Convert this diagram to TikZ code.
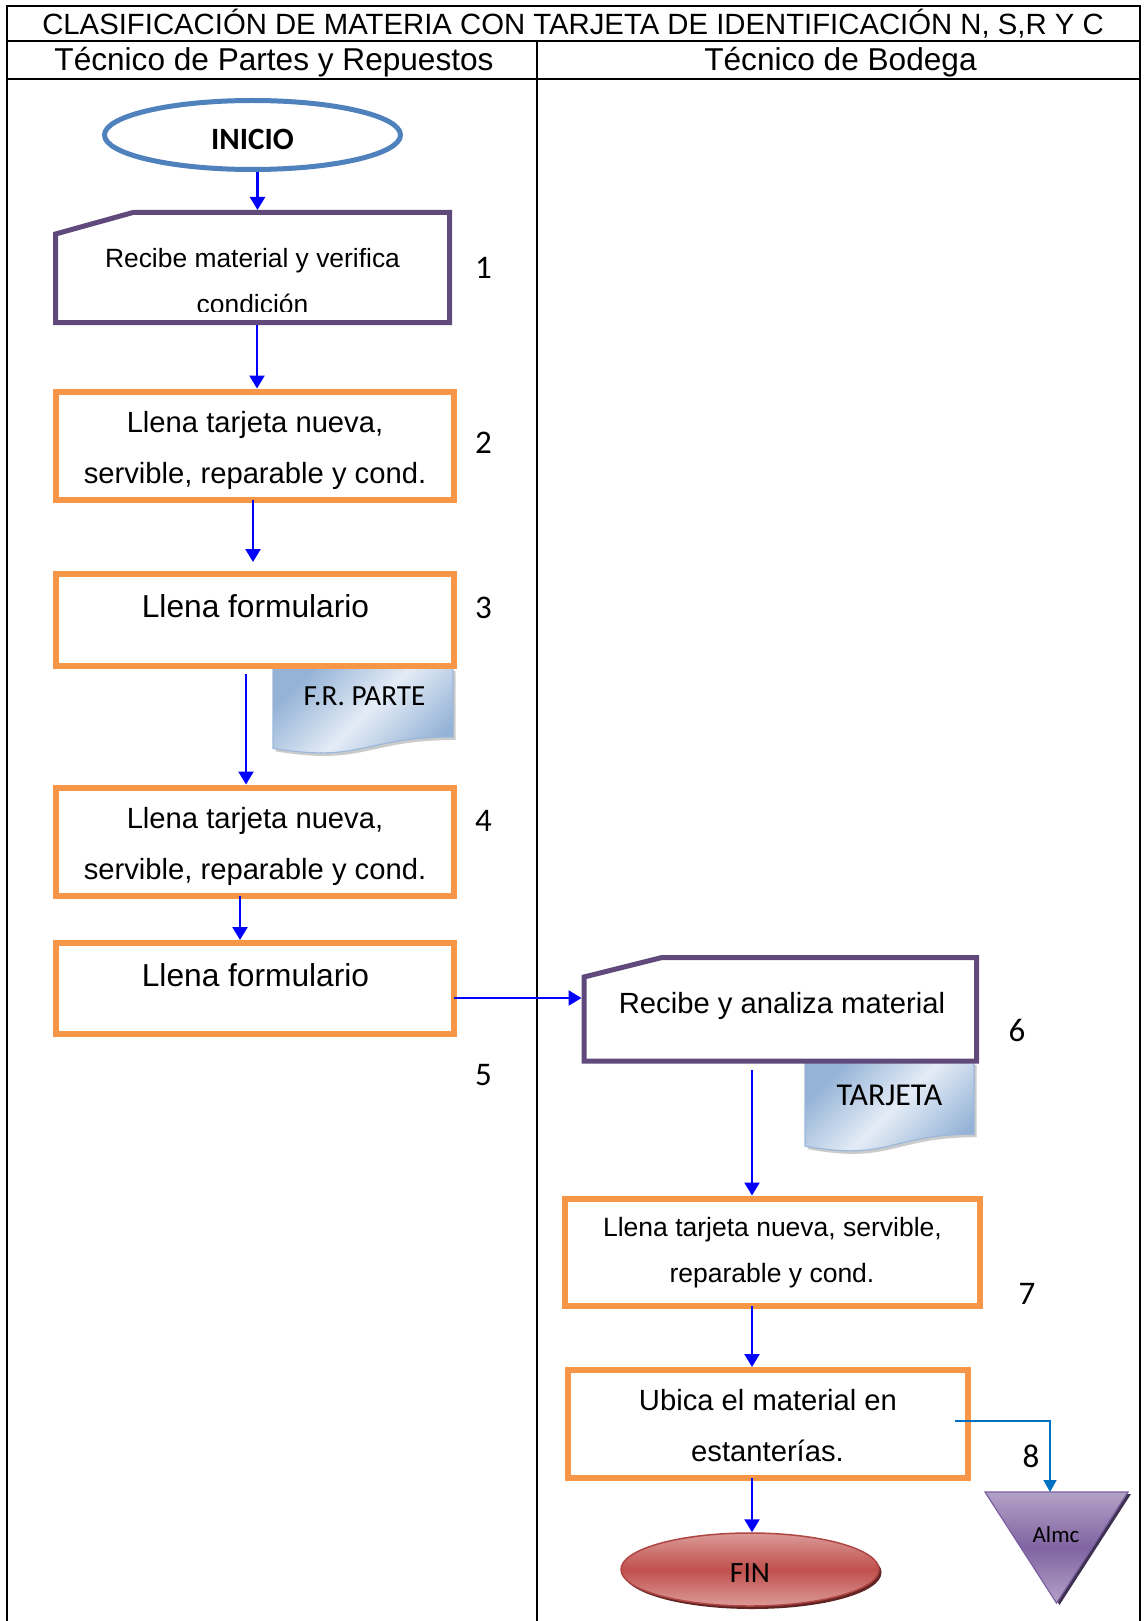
\documentclass[tikz,border=0pt]{standalone}
\usepackage{fontspec}
\setmainfont{Liberation Sans}
\newfontfamily\calibri{Carlito}
\usetikzlibrary{arrows.meta,calc,shapes.geometric}
\definecolor{borange}{HTML}{F79646}
\definecolor{bpurple}{HTML}{604A7B}
\definecolor{iniblue}{HTML}{4F81BD}
\definecolor{linkblue}{HTML}{0070C0}
\definecolor{docblue}{HTML}{95B3D7}
\definecolor{doclight}{HTML}{E4ECF6}
\definecolor{docedge}{HTML}{9BB7D9}
\definecolor{finred}{HTML}{C0504D}
\definecolor{finlight}{HTML}{DB9A98}
\definecolor{finedge}{HTML}{B04643}
\definecolor{findark}{HTML}{632523}
\definecolor{almcpurple}{HTML}{8064A2}
\definecolor{almclight}{HTML}{B3A2C7}
\definecolor{almcedge}{HTML}{7B60A0}
\definecolor{almcdark}{HTML}{3F3151}
\newcommand\fz[1]{\fontsize{#1pt}{#1pt}\selectfont}
\newcommand\drawdoc[2]{%
  \path[#2] (#1.north west) -- (#1.north east) -- ($(#1.north east)!0.802!(#1.south east)$)
    .. controls ($(#1.north)!0.802!(#1.south)$) and ($(#1.north)!1.1075!(#1.south)$) ..
    ($(#1.north west)!0.934!(#1.south west)$) -- cycle;}
\begin{document}
\begin{tikzpicture}[x=1pt,y=-1pt,
  tline/.style={draw=black, line width=2pt},
  obox/.style={rectangle, draw=borange, line width=6pt, inner sep=0pt, outer sep=0pt},
  pshape/.style={draw=bpurple, line width=5pt, line join=miter},
  ghost/.style={rectangle, draw=none, inner sep=0pt, outer sep=0pt},
  txt/.style={anchor=base, inner sep=0pt, outer sep=0pt},
  arr/.style={draw=blue, line width=2.4pt, -{Triangle[length=13pt,width=15pt]}},
  arrb/.style={draw=linkblue, line width=1.8pt, -{Triangle[length=12pt,width=13pt]}},
  num/.style={anchor=base, inner sep=0pt, font=\calibri\fz{33}},
]
\useasboundingbox (0,0) rectangle (1145,1621);
\fill[white] (0,0) rectangle (1145,1621);

% table frame
\draw[tline] (7,1621) -- (7,6) -- (1140,6) -- (1140,1621);
\draw[tline] (7,41) -- (1140,41);
\draw[tline] (7,79) -- (1140,79);
\draw[tline] (537,41) -- (537,1621);
\node[txt] (title) at (573,35) {\fz{29.3}CLASIFICACIÓN DE MATERIA CON TARJETA DE IDENTIFICACIÓN N, S,R Y C};
\node[txt] (head1) at (274,71) {\fz{31.6}Técnico de Partes y Repuestos};
\node[txt] (head2) at (840.5,71) {\fz{31.6}Técnico de Bodega};

% documents (drawn first)
\node[ghost, minimum width=180pt, minimum height=86pt] (doc1) at (363,711) {};
\node[ghost, minimum width=169pt, minimum height=90pt] (doc2) at (889.5,1107) {};
\drawdoc{doc1}{fill=black!45, opacity=0.45, transform canvas={shift={(2.5pt,-3pt)}}}
\drawdoc{doc1}{draw=docedge, line width=1.2pt, top color=docblue, bottom color=docblue, middle color=doclight, shading angle=45}
\drawdoc{doc2}{fill=black!45, opacity=0.45, transform canvas={shift={(2.5pt,-3pt)}}}
\drawdoc{doc2}{draw=docedge, line width=1.2pt, top color=docblue, bottom color=docblue, middle color=doclight, shading angle=45}
\node[txt, font=\calibri\fz{29.2}] (doc1t) at (364.5,705) {F.R. PARTE};
\node[txt, font=\calibri\fz{31.8}] (doc2t) at (889.5,1105) {TARJETA};

% start
\node[ellipse, draw=iniblue, line width=5pt, fill=white, minimum width=296pt, minimum height=69pt, inner sep=0pt] (ini) at (252.5,135) {};
\node[txt, font=\calibri\bfseries\fz{31}] (init) at (252.5,150) {INICIO};

% step 1
\node[ghost, minimum width=394pt, minimum height=110pt] (box1) at (252.5,267.5) {};
\draw[pshape] (box1.south west) -- ($(box1.north west)+(0,21.5)$) -- ($(box1.north west)+(77.5,0)$) -- (box1.north east) -- (box1.south east) -- cycle;
\node[txt] (t1a) at (252.5,267) {\fz{26.4}Recibe material y verifica};
\begin{scope}
\clip (0,0) rectangle (1145,311.7);
\node[txt] (t1b) at (252.5,313) {\fz{26.4}condición};
\end{scope}

% steps 2-5
\node[obox, minimum width=398pt, minimum height=108.5pt] (box2) at (255,445.75) {};
\node[txt] (t2a) at (255,432) {\fz{29.2}Llena tarjeta nueva,};
\node[txt] (t2b) at (255,483) {\fz{29.2}servible, reparable y cond.};
\node[obox, minimum width=398pt, minimum height=92pt] (box3) at (255,619.5) {};
\node[txt] (t3) at (255.5,617) {\fz{31.7}Llena formulario};
\node[obox, minimum width=398pt, minimum height=108.5pt] (box4) at (255,841.75) {};
\node[txt] (t4a) at (255,828) {\fz{29.2}Llena tarjeta nueva,};
\node[txt] (t4b) at (255,879) {\fz{29.2}servible, reparable y cond.};
\node[obox, minimum width=398pt, minimum height=91pt] (box5) at (255,988.5) {};
\node[txt] (t5) at (255.5,986) {\fz{31.7}Llena formulario};

% step 6
\node[ghost, minimum width=392.5pt, minimum height=103.5pt] (box6) at (780.25,1009.25) {};
\draw[pshape] (box6.south west) -- ($(box6.north west)+(0,19.5)$) -- ($(box6.north west)+(78,0)$) -- (box6.north east) -- (box6.south east) -- cycle;
\node[txt] (t6) at (782,1013) {\fz{29.2}Recibe y analiza material};

% steps 7-8
\node[obox, minimum width=415pt, minimum height=107.5pt] (box7) at (772.5,1252.25) {};
\node[txt] (t7a) at (772.5,1236) {\fz{26.5}Llena tarjeta nueva, servible,};
\node[txt] (t7b) at (772,1282) {\fz{26.5}reparable y cond.};
\node[obox, minimum width=400.5pt, minimum height=108pt] (box8) at (767.75,1424) {};
\node[txt] (t8a) at (768,1410) {\fz{29.2}Ubica el material en};
\node[txt] (t8b) at (767.5,1461) {\fz{29.2}estanterías.};

% end
\path[fill=findark] (752.5,1572.5) ellipse [x radius=129pt, y radius=36.5pt];
\node[ellipse, minimum width=258pt, minimum height=73pt, draw=finedge, line width=1.5pt, top color=finlight, bottom color=finlight, middle color=finred, inner sep=0pt] (fin) at (750,1569.5) {};
\node[txt, font=\calibri\fz{29.5}] (fint) at (750,1582) {FIN};

% storage triangle
\node[ghost, minimum width=143pt, minimum height=111pt] (almc) at (1056.5,1547.5) {};
\path[fill=almcdark, transform canvas={shift={(3pt,-2pt)}}] (almc.north west) -- (almc.north east) -- (almc.south) -- cycle;
\path[draw=almcedge, line width=1.2pt, top color=almclight, bottom color=almclight, middle color=almcpurple] (almc.north west) -- (almc.north east) -- (almc.south) -- cycle;
\node[txt, font=\calibri\fz{23}] (almct) at (1056,1542) {Almc};

% step numbers
\node[num] (n1) at (483.5,278) {1};
\node[num] (n2) at (483.5,453) {2};
\node[num] (n3) at (483.5,618) {3};
\node[num] (n4) at (483.5,831) {4};
\node[num] (n5) at (483.5,1085) {5};
\node[num] (n6) at (1017,1041) {6};
\node[num] (n7) at (1027,1304) {7};
\node[num] (n8) at (1031,1467) {8};

% connectors
\coordinate (x1) at (257.5,0);
\coordinate (x2) at (257,0);
\coordinate (x3) at (253,0);
\coordinate (x4) at (246,0);
\coordinate (x5) at (240,0);
\coordinate (y6) at (0,998);
\coordinate (x7) at (752,0);
\coordinate (x8) at (1050,0);
\draw[arr, shorten >=2.5pt] (ini.south -| x1) -- (box1.north -| x1);
\draw[arr, shorten <=2.5pt, shorten >=3pt] (box1.south -| x2) -- (box2.north -| x2);
\draw[arr, shorten >=11.5pt] (box2.south -| x3) -- (box3.north -| x3);
\draw[arr, shorten <=8.5pt, shorten >=3pt] (box3.south -| x4) -- (box4.north -| x4);
\draw[arr, shorten >=3pt] (box4.south -| x5) -- (box5.north -| x5);
\draw[arr, shorten >=2.5pt] (box5.east |- y6) -- (box6.west |- y6);
\draw[arr, shorten <=9pt, shorten >=3pt] (box6.south -| x7) -- (box7.north -| x7);
\draw[arr, shorten >=3pt] (box7.south -| x7) -- (box8.north -| x7);
\draw[arr] (box8.south -| x7) -- (fin.north -| x7);
\draw[arrb] ($(box8.east)+(-13,-3)$) -| (almc.north -| x8);
\end{tikzpicture}
\end{document}
